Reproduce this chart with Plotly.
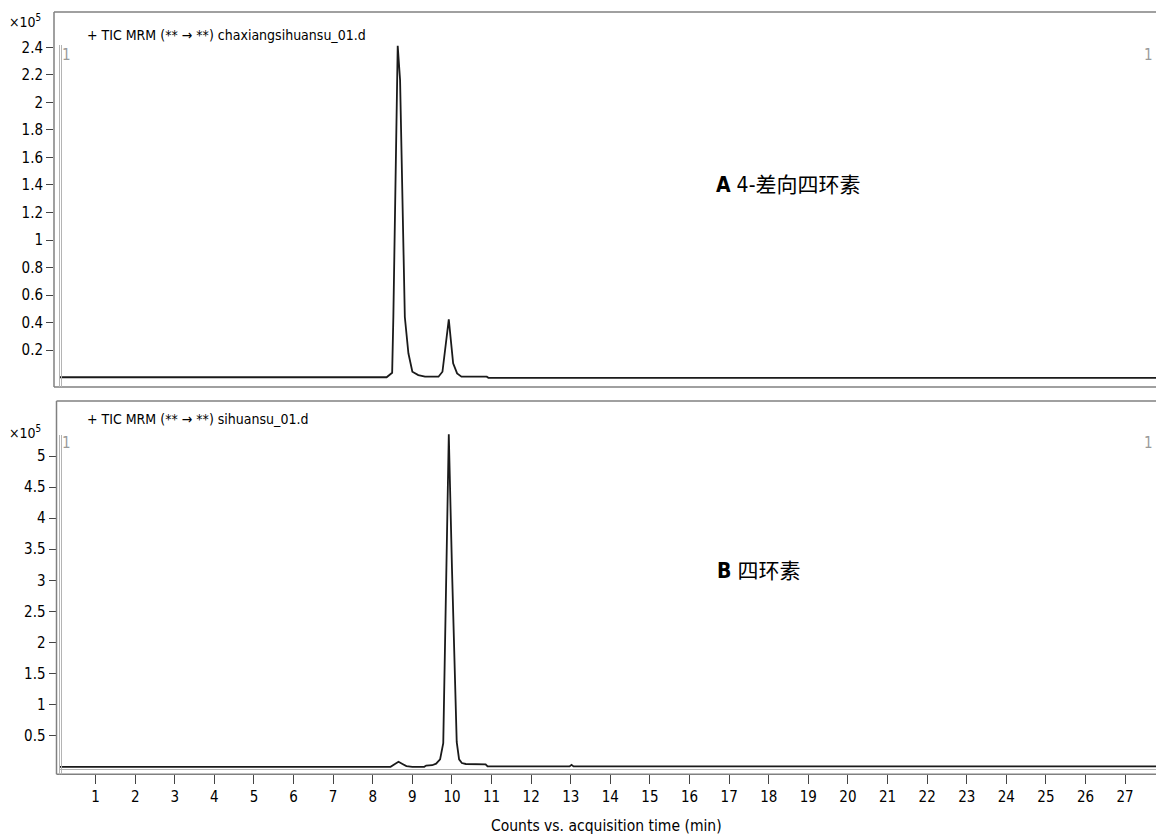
import plotly.graph_objects as go

W, H = 1156, 835

# ---- data (counts in units of 1e5) ----
time_a = [0.08, 8.35, 8.49, 8.52, 8.63, 8.69, 8.81, 8.90, 9.00, 9.15, 9.32, 9.66, 9.76,
          9.92, 10.03, 10.13, 10.24, 10.88, 10.92, 27.8]
counts_a = [0.002, 0.002, 0.035, 0.44, 2.413, 2.164, 0.44, 0.176, 0.042, 0.018, 0.006, 0.006,
            0.042, 0.423, 0.103, 0.03, 0.006, 0.006, -0.002, -0.002]

time_b = [0.08, 8.45, 8.55, 8.65, 8.75, 8.85, 9.0, 9.3, 9.35, 9.5, 9.6, 9.7, 9.78, 9.92,
          10.0, 10.06, 10.12, 10.18, 10.25, 10.35, 10.85, 10.9, 12.97, 13.02, 13.07, 27.8]
counts_b = [0.0, 0.0, 0.04, 0.08, 0.045, 0.01, 0.0, 0.0, 0.02, 0.025, 0.05, 0.12, 0.38, 5.35,
            3.2, 1.7, 0.4, 0.12, 0.06, 0.045, 0.04, 0.005, 0.005, 0.03, 0.005, 0.005]

ytick_a_vals = [0.2, 0.4, 0.6, 0.8, 1.0, 1.2, 1.4, 1.6, 1.8, 2.0, 2.2, 2.4]
ytick_a_text = ["0.2", "0.4", "0.6", "0.8", "1", "1.2", "1.4", "1.6", "1.8", "2", "2.2", "2.4"]
ytick_b_vals = [0.5, 1.0, 1.5, 2.0, 2.5, 3.0, 3.5, 4.0, 4.5, 5.0]
ytick_b_text = ["0.5", "1", "1.5", "2", "2.5", "3", "3.5", "4", "4.5", "5"]
xtick_vals = list(range(1, 28))
xtick_text = [str(v) for v in xtick_vals]

title_a = "+ TIC MRM (** \u2192 **) chaxiangsihuansu_01.d"
title_b = "+ TIC MRM (** \u2192 **) sihuansu_01.d"
label_a = "<b>A</b> 4-差向四环素"
label_b = "<b>B</b> 四环素"
x_title = "Counts vs. acquisition time (min)"

FONT = "DejaVu Sans Condensed, Liberation Sans Narrow, Noto Sans CJK SC, sans-serif"
CJK_FONT = "DejaVu Sans Condensed, Noto Sans CJK SC, sans-serif"
FRAME = "#808080"
INNER = "#b4b4b4"


def px(x):
    return x / W


def py(y):
    return 1 - y / H


fig = go.Figure()
fig.add_trace(go.Scatter(x=time_a, y=counts_a, mode="lines",
                         line=dict(color="#1a1a1a", width=1.8), xaxis="x", yaxis="y",
                         showlegend=False, hoverinfo="skip"))
fig.add_trace(go.Scatter(x=time_b, y=counts_b, mode="lines",
                         line=dict(color="#1a1a1a", width=1.8), xaxis="x2", yaxis="y2",
                         showlegend=False, hoverinfo="skip"))

common_y = dict(showgrid=False, zeroline=False, showline=False, ticks="outside",
                ticklen=7, tickwidth=1, tickcolor="#444",
                tickfont=dict(family=FONT, size=15, color="#000"), automargin=False)

fig.update_layout(
    width=W, height=H,
    margin=dict(l=0, r=0, t=0, b=0),
    paper_bgcolor="white", plot_bgcolor="white",
    xaxis=dict(domain=[px(54), 1], range=[-0.05, 27.78], anchor="y",
               showgrid=False, zeroline=False, showline=False,
               showticklabels=False, ticks=""),
    yaxis=dict(domain=[py(387), py(12)], range=[-0.069, 2.658], anchor="x",
               tickmode="array", tickvals=ytick_a_vals, ticktext=ytick_a_text, **common_y),
    xaxis2=dict(domain=[px(56.5), 1], range=[0.013, 27.78], anchor="y2",
                showgrid=False, zeroline=False, showline=False,
                tickmode="array", tickvals=xtick_vals, ticktext=xtick_text,
                ticks="outside", ticklen=9, tickwidth=1, tickcolor="#444",
                tickfont=dict(family=FONT, size=15, color="#000"), automargin=False),
    yaxis2=dict(domain=[py(774.3), py(401)], range=[-0.121, 5.885], anchor="x2",
                tickmode="array", tickvals=ytick_b_vals, ticktext=ytick_b_text, **common_y),
)

shapes = []
# frames (open on the right)
for (l, t, b) in [(54, 12, 387), (56.5, 401, 774.3)]:
    shapes.append(dict(type="line", xref="paper", yref="paper", x0=px(l), x1=1.01,
                       y0=py(t), y1=py(t), line=dict(color=FRAME, width=1.5)))
    shapes.append(dict(type="line", xref="paper", yref="paper", x0=px(l), x1=1.01,
                       y0=py(b), y1=py(b), line=dict(color=FRAME, width=1.5)))
    shapes.append(dict(type="line", xref="paper", yref="paper", x0=px(l), x1=px(l),
                       y0=py(t), y1=py(b), line=dict(color=FRAME, width=1.5)))
# inner double lines
for (t, b) in [(45, 387), (435, 774.3)]:
    for xx in (59.5, 61.5):
        shapes.append(dict(type="line", xref="paper", yref="paper", x0=px(xx), x1=px(xx),
                           y0=py(t), y1=py(b), line=dict(color=INNER, width=1)))
shapes.append(dict(type="line", xref="paper", yref="paper", x0=px(60), x1=1.01,
                   y0=py(769.5), y1=py(769.5), line=dict(color=INNER, width=1)))
fig.update_layout(shapes=shapes)

ann = []


def add_text(text, x, y, size, xanchor="left", color="#000", family=FONT):
    ann.append(dict(text=text, x=px(x), y=py(y), xref="paper", yref="paper",
                    xanchor=xanchor, yanchor="middle", showarrow=False,
                    font=dict(family=family, size=size, color=color)))


add_text("×10<sup>5</sup>", 43, 21, 14, xanchor="right")
add_text("×10<sup>5</sup>", 43, 432, 14, xanchor="right")
add_text(title_a, 85, 35, 14)
add_text(title_b, 85, 419, 14)
add_text("1", 66.5, 55, 15, xanchor="center", color="#9a9a9a")
add_text("1", 66.5, 443, 15, xanchor="center", color="#9a9a9a")
add_text("1", 1155, 55, 15, xanchor="right", color="#9a9a9a")
add_text("1", 1155, 443, 15, xanchor="right", color="#9a9a9a")
add_text(label_a, 714, 185, 21, family=CJK_FONT)
add_text(label_b, 715, 571, 21, family=CJK_FONT)
add_text(x_title, 606, 826, 15.5, xanchor="center")
fig.update_layout(annotations=ann)

fig.write_html("out.html")
